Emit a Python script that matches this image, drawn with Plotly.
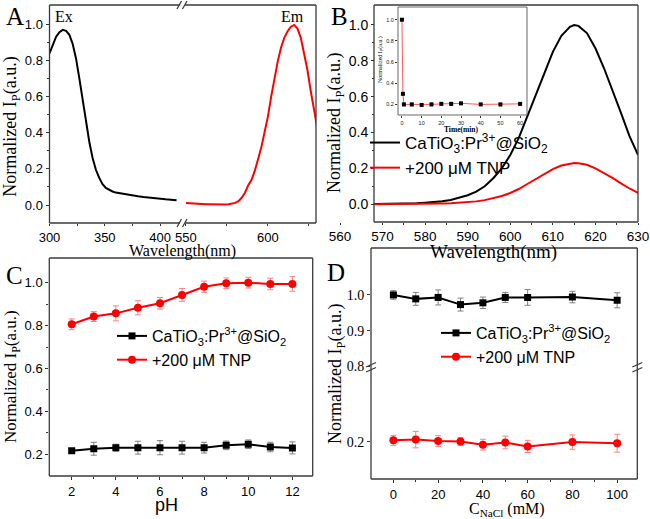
import plotly.graph_objects as go

W, H = 650, 519
def px(x): return x / W
def py(y): return 1 - y / H

ARIAL = "Liberation Sans, Arial, sans-serif"
TIMES = "Liberation Serif, Times New Roman, serif"

# ---------------- Panel A ----------------
ex_wl = [300, 303, 306, 309, 312, 315, 318, 321, 324, 327, 330, 333, 336, 339, 342, 345, 348,
         351, 354, 357, 360, 365, 370, 375, 380, 385, 390, 395, 400, 405, 410, 415]
ex_int = [0.838, 0.89, 0.93, 0.955, 0.968, 0.962, 0.94, 0.89, 0.81, 0.70, 0.58, 0.46, 0.35, 0.26,
          0.195, 0.15, 0.115, 0.095, 0.083, 0.075, 0.069, 0.063, 0.058, 0.053, 0.049, 0.045,
          0.041, 0.038, 0.035, 0.032, 0.030, 0.027]
em_wl = list(range(550, 631, 2))
em_int = [0.012, 0.010, 0.009, 0.007, 0.006, 0.006, 0.004, 0.004, 0.003, 0.002, 0.001, 0.002,
          0.003, 0.004, 0.007, 0.012, 0.022, 0.040, 0.068, 0.11, 0.14, 0.19, 0.255, 0.32, 0.405,
          0.49, 0.60, 0.70, 0.795, 0.87, 0.925, 0.96, 0.985, 0.995, 0.975, 0.925, 0.845, 0.75,
          0.635, 0.52, 0.43]

# ---------------- Panel B ----------------
b_wl = [568, 570, 572, 574, 576, 578, 580, 582, 584, 586, 588, 590, 592, 594, 596, 598, 600,
        602, 604, 606, 608, 610, 612, 614, 615, 616, 618, 620, 622, 624, 626, 628, 630]
b_blank = [0.001, 0.0015, 0.002, 0.003, 0.004, 0.006, 0.009, 0.012, 0.017, 0.024, 0.035, 0.05,
           0.07, 0.10, 0.145, 0.20, 0.275, 0.37, 0.49, 0.61, 0.74, 0.85, 0.94, 0.99, 1.0, 0.995,
           0.955, 0.87, 0.76, 0.64, 0.51, 0.38, 0.275]
b_tnp = [0.0002, 0.0003, 0.0005, 0.0007, 0.0009, 0.0014, 0.002, 0.003, 0.004, 0.0055, 0.008,
         0.0115, 0.016, 0.023, 0.033, 0.046, 0.063, 0.085, 0.113, 0.14, 0.17, 0.196, 0.216,
         0.228, 0.23, 0.229, 0.22, 0.20, 0.175, 0.147, 0.117, 0.088, 0.064]

# inset (time response)
t_min = [0, 0.5, 1, 5, 10, 15, 20, 25, 30, 40, 50, 60]
t_int = [1.0, 0.30, 0.20, 0.20, 0.195, 0.20, 0.205, 0.205, 0.21, 0.20, 0.20, 0.205]
t_err = [0.005, 0.01, 0.015, 0.015, 0.012, 0.015, 0.015, 0.015, 0.012, 0.01, 0.015, 0.012]

# ---------------- Panel C ----------------
ph = [2, 3, 4, 5, 6, 7, 8, 9, 10, 11, 12]
c_blank = [0.217, 0.226, 0.231, 0.231, 0.231, 0.231, 0.231, 0.242, 0.247, 0.234, 0.230]
c_blank_err = [0.01, 0.03, 0.016, 0.03, 0.033, 0.03, 0.025, 0.02, 0.02, 0.022, 0.028]
c_tnp = [0.806, 0.842, 0.857, 0.883, 0.904, 0.943, 0.981, 0.997, 1.0, 0.994, 0.994]
c_tnp_err = [0.025, 0.023, 0.035, 0.033, 0.027, 0.03, 0.026, 0.025, 0.025, 0.027, 0.034]

# ---------------- Panel D ----------------
nacl = [0, 10, 20, 30, 40, 50, 60, 80, 100]
d_blank = [1.0, 0.989, 0.993, 0.973, 0.978, 0.993, 0.993, 0.994, 0.985]
d_blank_err = [0.012, 0.018, 0.021, 0.018, 0.016, 0.014, 0.022, 0.016, 0.021]
d_tnp = [0.204, 0.206, 0.202, 0.201, 0.192, 0.198, 0.187, 0.199, 0.196]
d_tnp_err = [0.014, 0.023, 0.015, 0.011, 0.015, 0.018, 0.017, 0.02, 0.025]

NAME1 = "CaTiO<sub>3</sub>:Pr<sup>3+</sup>@SiO<sub>2</sub>"
NAME2 = "+200 μM TNP"

fig = go.Figure()

# A
fig.add_trace(go.Scatter(x=ex_wl, y=ex_int, xaxis="x", yaxis="y", mode="lines",
                         line=dict(color="black", width=2), showlegend=False))
fig.add_trace(go.Scatter(x=em_wl, y=em_int, xaxis="x2", yaxis="y", mode="lines",
                         line=dict(color="#ff0000", width=2), showlegend=False))
# B
fig.add_trace(go.Scatter(x=b_wl, y=b_blank, xaxis="x3", yaxis="y2", mode="lines", name=NAME1,
                         line=dict(color="black", width=2), legend="legend"))
fig.add_trace(go.Scatter(x=b_wl, y=b_tnp, xaxis="x3", yaxis="y2", mode="lines", name=NAME2,
                         line=dict(color="#ff0000", width=2), legend="legend"))
# inset
fig.add_trace(go.Scatter(x=t_min, y=t_int, xaxis="x4", yaxis="y3", mode="lines+markers",
                         line=dict(color="#ff5a5a", width=1),
                         marker=dict(symbol="square", size=4, color="black"),
                         error_y=dict(type="data", array=t_err, color="#9a9a9a", thickness=0.8, width=1.5),
                         showlegend=False))
# C
fig.add_trace(go.Scatter(x=ph, y=c_blank, xaxis="x5", yaxis="y4", mode="lines+markers", name=NAME1,
                         line=dict(color="black", width=2),
                         marker=dict(symbol="square", size=7, color="black"),
                         error_y=dict(type="data", array=c_blank_err, color="#808080", thickness=1, width=3),
                         legend="legend2"))
fig.add_trace(go.Scatter(x=ph, y=c_tnp, xaxis="x5", yaxis="y4", mode="lines+markers", name=NAME2,
                         line=dict(color="#ff0000", width=2),
                         marker=dict(symbol="circle", size=8, color="#ff0000"),
                         error_y=dict(type="data", array=c_tnp_err, color="#ff8080", thickness=1, width=3),
                         legend="legend2"))
# D
fig.add_trace(go.Scatter(x=nacl, y=d_blank, xaxis="x6", yaxis="y5", mode="lines+markers", name=NAME1,
                         line=dict(color="black", width=2),
                         marker=dict(symbol="square", size=7, color="black"),
                         error_y=dict(type="data", array=d_blank_err, color="#808080", thickness=1, width=3),
                         legend="legend3"))
fig.add_trace(go.Scatter(x=nacl, y=d_tnp, xaxis="x6", yaxis="y6", mode="lines+markers", name=NAME2,
                         line=dict(color="#ff0000", width=2),
                         marker=dict(symbol="circle", size=8, color="#ff0000"),
                         error_y=dict(type="data", array=d_tnp_err, color="#ff8080", thickness=1, width=3),
                         legend="legend3"))

def ax(**kw):
    base = dict(showgrid=False, zeroline=False, showline=False, ticks="outside", ticklen=3,
                tickwidth=1, tickcolor="#333", tickmode="array", automargin=False,
                tickfont=dict(family=ARIAL, size=13, color="black"))
    base.update(kw)
    return base

def minor(vals, ln=2):
    return dict(tickmode="array", tickvals=vals, ticks="outside", ticklen=ln, tickcolor="#333", tickwidth=1)

fig.update_layout(
    width=W, height=519, margin=dict(l=0, r=0, t=0, b=0, autoexpand=False),
    paper_bgcolor="white", plot_bgcolor="white",
    xaxis=ax(domain=[px(49.5), px(182)], range=[300, 419.9], anchor="y", ticklen=2,
             tickvals=[300, 350, 400], minor=minor([325, 375])),
    xaxis2=ax(domain=[px(183), px(316)], range=[548.2, 629.3], anchor="y", ticklen=2,
              tickvals=[550, 600], minor=minor([575, 625])),
    yaxis=ax(domain=[py(223), py(5)], range=[-0.099, 1.105], anchor="x",
             tickvals=[0, 0.2, 0.4, 0.6, 0.8, 1.0], ticktext=["0.0", "0.2", "0.4", "0.6", "0.8", "1.0"],
             minor=minor([0.1, 0.3, 0.5, 0.7, 0.9])),
    xaxis3=ax(domain=[px(340), px(638)], range=[560, 630], anchor="y2", ticklen=2,
              tickvals=[560, 570, 580, 590, 600, 610, 620, 630],
              tickfont=dict(family=ARIAL, size=13.5, color="black"),
              minor=minor([575, 585, 595, 605, 615, 625])),
    yaxis2=ax(domain=[py(222), py(5)], range=[-0.099, 1.1115], anchor="free", position=px(374),
              tickvals=[0, 0.2, 0.4, 0.6, 0.8, 1.0], ticktext=["0.0", "0.2", "0.4", "0.6", "0.8", "1.0"],
              tickfont=dict(family=ARIAL, size=14, color="black"),
              minor=minor([0.1, 0.3, 0.5, 0.7, 0.9])),
    xaxis4=ax(domain=[px(398), px(527)], range=[-2, 63.5], anchor="y3",
              tickvals=[0, 10, 20, 30, 40, 50, 60], ticklen=2,
              tickfont=dict(family=ARIAL, size=5.5, color="#222")),
    yaxis3=ax(domain=[py(115), py(7)], range=[0.1, 1.12], anchor="x4", ticklen=2,
              tickvals=[0.2, 0.4, 0.6, 0.8, 1.0], ticktext=["0.2", "0.4", "0.6", "0.8", "1.0"],
              tickfont=dict(family=ARIAL, size=5.5, color="#222")),
    xaxis5=ax(domain=[px(49.3), px(312.7)], range=[0.985, 12.92], anchor="y4",
              tickvals=[2, 4, 6, 8, 10, 12], minor=minor([3, 5, 7, 9, 11])),
    yaxis4=ax(domain=[py(476), py(258)], range=[0.099, 1.115], anchor="x5",
              tickvals=[0.2, 0.4, 0.6, 0.8, 1.0], ticktext=["0.2", "0.4", "0.6", "0.8", "1.0"],
              minor=minor([0.3, 0.5, 0.7, 0.9])),
    xaxis6=ax(domain=[px(371), px(637.3)], range=[-10, 109], anchor="y6",
              tickvals=[0, 20, 40, 60, 80, 100], minor=minor([10, 30, 50, 70, 90])),
    yaxis5=ax(domain=[py(368), py(248)], range=[0.796, 1.131], anchor="x6",
              tickvals=[0.8, 0.9, 1.0], ticktext=["0.8", "0.9", "1.0"],
              tickfont=dict(family=TIMES, size=14, color="black")),
    yaxis6=ax(domain=[py(479), py(368)], range=[0.096, 0.406], anchor="x6",
              tickvals=[0.2], ticktext=["0.2"],
              tickfont=dict(family=TIMES, size=14, color="black")),
    legend=dict(x=px(365), y=py(125), xanchor="left", yanchor="top", bgcolor="rgba(0,0,0,0)",
                font=dict(family=ARIAL, size=17, color="black"), tracegroupgap=0, itemwidth=30),
    legend2=dict(x=px(112), y=py(319), xanchor="left", yanchor="top", bgcolor="rgba(0,0,0,0)",
                 font=dict(family=ARIAL, size=16, color="black"), tracegroupgap=0, itemwidth=30),
    legend3=dict(x=px(436), y=py(316), xanchor="left", yanchor="top", bgcolor="rgba(0,0,0,0)",
                 font=dict(family=ARIAL, size=16, color="black"), tracegroupgap=0, itemwidth=30),
)

FR = "#3a3a3a"
shapes = []
def seg(x0, y0, x1, y1, color=FR, w=1.3):
    shapes.append(dict(type="line", xref="paper", yref="paper", x0=px(x0), y0=py(y0),
                       x1=px(x1), y1=py(y1), line=dict(color=color, width=w)))

# A frame with x-break
for yy in (5, 223):
    seg(49.5, yy, 180, yy)
    seg(185, yy, 316, yy)
    seg(177, yy + 4, 181.5, yy - 4)
    seg(182.5, yy + 4, 187, yy - 4)
seg(49.5, 5, 49.5, 223)
seg(316, 5, 316, 223)
# B frame
for (x0, y0, x1, y1) in [(374, 5, 638, 5), (374, 222, 638, 222), (374, 5, 374, 222), (638, 5, 638, 222)]:
    seg(x0, y0, x1, y1)
# inset frame
for (x0, y0, x1, y1) in [(398, 7, 527, 7), (398, 115, 527, 115), (398, 7, 398, 115), (527, 7, 527, 115)]:
    seg(x0, y0, x1, y1, color="#666", w=1)
# C frame
for (x0, y0, x1, y1) in [(49.3, 258, 312.7, 258), (49.3, 476, 312.7, 476), (49.3, 258, 49.3, 476), (312.7, 258, 312.7, 476)]:
    seg(x0, y0, x1, y1)
# D frame with y-break
for (x0, y0, x1, y1) in [(371, 248, 637.3, 248), (371, 479, 637.3, 479), (371, 248, 371, 479), (637.3, 248, 637.3, 479)]:
    seg(x0, y0, x1, y1)
for xx in (371, 637.3):
    seg(xx - 5, 367, xx + 5, 362.5)
    seg(xx - 5, 372, xx + 5, 367.5)
fig.update_layout(shapes=shapes)

anns = []
def ann(text, x, y, size, family=TIMES, angle=0, **kw):
    d = dict(text=text, x=px(x), y=py(y), xref="paper", yref="paper", showarrow=False,
             xanchor="center", yanchor="middle", textangle=angle,
             font=dict(family=family, size=size, color="black"))
    d.update(kw)
    anns.append(d)

YT = "Normalized I<sub>P</sub>(a.u.)"
ann(YT, 12, 126.7, 18, angle=-90)
ann("Wavelength(nm)", 182.5, 251, 16)
ann(YT, 336, 123, 18, angle=-90)
ann("Wavelength(nm)", 493.5, 252, 19)
ann(YT, 12, 377, 17, angle=-90)
ann("pH", 166, 505, 18, family=ARIAL)
ann(YT, 336, 374, 18, angle=-90)
ann("C<sub>NaCl</sub> (mM)", 507, 509, 16)
ann("A", 15, 17, 25)
ann("B", 339.5, 17, 25)
ann("C", 14.5, 275, 25)
ann("D", 335.5, 272.5, 25)
ann(YT, 381, 60, 6, angle=-90)
ann("<b>Time(min)</b>", 461.7, 129, 7.5)
anns.append(dict(text="Ex", x=313, y=1.04, xref="x", yref="y", showarrow=False,
                 font=dict(family=TIMES, size=16, color="black")))
anns.append(dict(text="Em", x=615.2, y=1.04, xref="x2", yref="y", showarrow=False,
                 font=dict(family=TIMES, size=16, color="black")))
fig.update_layout(annotations=anns)

fig.write_html("out.html")
